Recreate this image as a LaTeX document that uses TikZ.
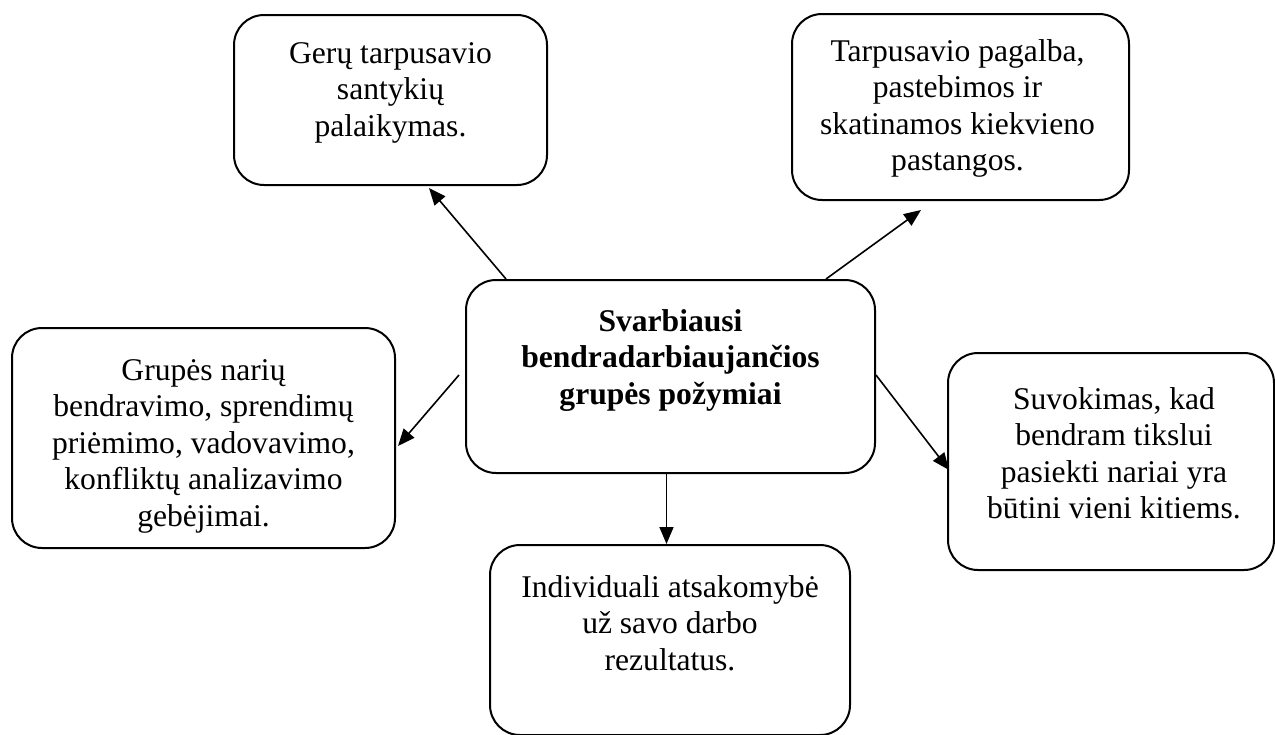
\documentclass[tikz,border=0pt]{standalone}
\usepackage{fontspec}
\setmainfont{Liberation Serif}
\usetikzlibrary{calc,arrows.meta}
\begin{document}
\begin{tikzpicture}[x=0.5pt,y=-0.5pt,
  box/.style={draw,line width=1pt,rounded corners=15pt,inner sep=0pt},
  txt/.style={anchor=north,align=center,inner sep=0pt,font=\fontsize{15.8}{18.25}\selectfont},
  conn/.style={line width=0.8pt,-{Triangle[length=8.5pt,width=7pt]}}]
\useasboundingbox (0,0) rectangle (1275,734);
% boxes
\node[box,minimum width=156.5pt,minimum height=85pt] (TL) at (390.5,100) {};
\node[box,minimum width=168.5pt,minimum height=93pt] (TR) at (960.5,107) {};
\node[box,minimum width=204.5pt,minimum height=96.5pt] (C) at (670.5,376.5) {};
\node[box,minimum width=191.5pt,minimum height=110pt] (L) at (203.5,438) {};
\node[box,minimum width=163pt,minimum height=108.5pt] (R) at (1111,461.5) {};
\node[box,minimum width=180pt,minimum height=95pt] (B) at (670,640) {};
% texts
\node[txt] (tTL) at ($(TL.north)+(0,28)$) {Gerų tarpusavio\\santykių\\palaikymas.};
\node[txt] (tTR) at ($(TR.north)+(-3,26)$) {Tarpusavio pagalba,\\pastebimos ir\\skatinamos kiekvieno\\pastangos.};
\node[txt,font=\fontsize{15.8}{18.25}\selectfont\bfseries] (tC) at ($(C.north)+(0,30)$) {Svarbiausi\\bendradarbiaujančios\\grupės požymiai};
\node[txt] (tL) at ($(L.north)+(0,32)$) {Grupės narių\\bendravimo, sprendimų\\priėmimo, vadovavimo,\\konfliktų analizavimo\\gebėjimai.};
\node[txt] (tR) at ($(R.north)+(3,35)$) {Suvokimas, kad\\bendram tikslui\\pasiekti nariai yra\\būtini vieni kitiems.};
\node[txt] (tB) at ($(B.north)+(0,31)$) {Individuali atsakomybė\\už savo darbo\\rezultatus.};
% connector endpoints
\coordinate (a1s) at ($(C.north west)+(41,0)$);
\coordinate (a1e) at ($(TL.south west)+(196,2)$);
\coordinate (a2s) at ($(C.north west)+(361,0)$);
\coordinate (a2e) at ($(TR.south west)+(130,9)$);
\coordinate (a3s) at ($(C.west)+(-6,-1.5)$);
\coordinate (a3e) at ($(L.east)+(2,8)$);
\coordinate (a4s) at ($(C.east)+(0,-1.5)$);
\coordinate (a4e) at ($(R.west)+(2,8.5)$);
\coordinate (a5s) at ($(C.south)+(-4,0)$);
\coordinate (a5e) at (a5s |- B.north);
\draw[conn] (a1s) -- (a1e);
\draw[conn] (a2s) -- (a2e);
\draw[conn] (a3s) -- (a3e);
\draw[conn] (a4s) -- (a4e);
\draw[conn] (a5s) -- (a5e);
\end{tikzpicture}
\end{document}
